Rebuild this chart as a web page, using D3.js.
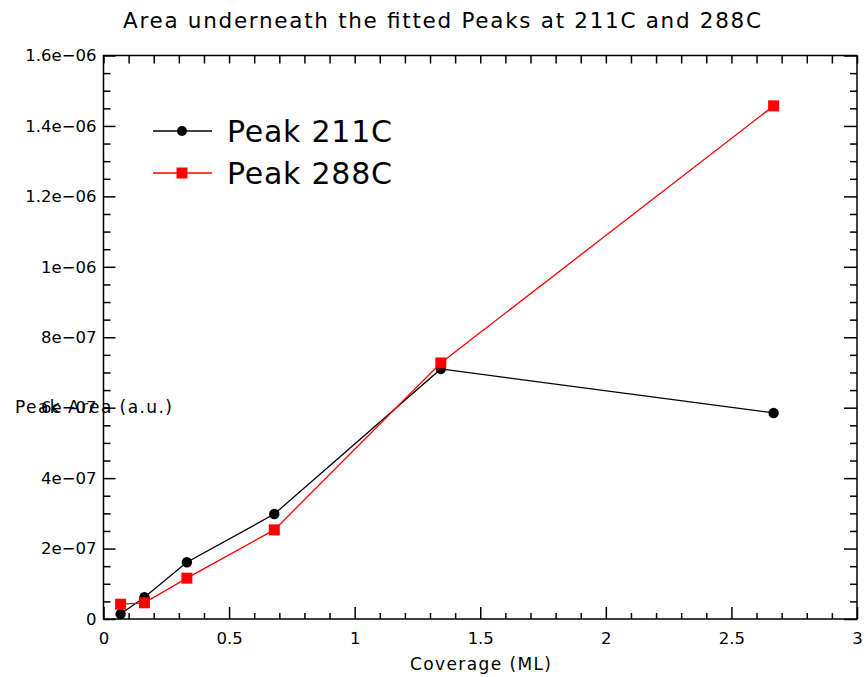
<!DOCTYPE html>
<html><head><meta charset="utf-8">
<script src="https://cdn.jsdelivr.net/npm/d3@7"></script>
<style>
body{margin:0;background:#fff;}
text{font-family:"DejaVu Sans",Verdana,sans-serif;}
</style></head>
<body>
<svg id="chart" width="868" height="677"></svg>
<script>
const coverage = [0.068, 0.163, 0.332, 0.68, 1.343, 2.668];
const peak211 = [1.4e-8, 6.2e-8, 1.61e-7, 2.98e-7, 7.1e-7, 5.85e-7];
const peak288 = [4.2e-8, 4.6e-8, 1.16e-7, 2.53e-7, 7.27e-7, 1.457e-6];
const seriesNames = ["Peak 211C", "Peak 288C"];
const xTicks = [0, 0.5, 1, 1.5, 2, 2.5, 3];
const yTicks = [0, 2e-7, 4e-7, 6e-7, 8e-7, 1e-6, 1.2e-6, 1.4e-6, 1.6e-6];
const yTickLabels = ["0", "2e\u221207", "4e\u221207", "6e\u221207", "8e\u221207", "1e\u221206", "1.2e\u221206", "1.4e\u221206", "1.6e\u221206"];

const svg = d3.select("#chart");
const L = 103.5, R = 857, T = 55.5, B = 619;
const x = d3.scaleLinear().domain([0, 3]).range([L, R]);
const y = d3.scaleLinear().domain([0, 1.6e-6]).range([B, T]);

const xMinor = d3.range(0, 3.0001, 0.1).map(v => +v.toFixed(2)).filter(v => !xTicks.some(t => Math.abs(t - v) < 1e-6));
const yMinor = d3.range(0, 1.6e-6 + 1e-12, 0.5e-7).filter(v => !yTicks.some(t => Math.abs(t - v) < 1e-12));

const g = svg.append("g");
g.append("rect").attr("x", L).attr("y", T).attr("width", R - L).attr("height", B - T)
  .attr("fill", "none").attr("stroke", "#000").attr("stroke-width", 1.5);

// bottom axis
const bottom = d3.axisBottom(x).tickValues(xTicks).tickSize(-12).tickPadding(13).tickFormat(d3.format("~g"));
const gb = g.append("g").attr("transform", `translate(0,${B})`).call(bottom);
gb.select(".domain").remove();
gb.selectAll(".tick line").attr("stroke-width", 1.5);
gb.selectAll(".tick text").attr("font-size", 16.5).attr("fill", "#000");
g.append("g").attr("transform", `translate(0,${B})`).call(d3.axisBottom(x).tickValues(xMinor).tickSize(-6).tickFormat(""))
  .call(s => { s.select(".domain").remove(); s.selectAll("line").attr("stroke-width", 1.5); });

// top axis (ticks only)
g.append("g").attr("transform", `translate(0,${T})`).call(d3.axisTop(x).tickValues(xMinor.concat(xTicks)).tickSize(-8).tickFormat(""))
  .call(s => { s.select(".domain").remove(); s.selectAll("line").attr("stroke-width", 1.5); });

// left axis
const left = d3.axisLeft(y).tickValues(yTicks).tickSize(-12).tickPadding(7).tickFormat((d, i) => yTickLabels[i]);
const gl = g.append("g").attr("transform", `translate(${L},0)`).call(left);
gl.select(".domain").remove();
gl.selectAll(".tick line").attr("stroke-width", 1.5);
gl.selectAll(".tick text").attr("font-size", 16.5).attr("fill", "#000");
g.append("g").attr("transform", `translate(${L},0)`).call(d3.axisLeft(y).tickValues(yMinor).tickSize(-7).tickFormat(""))
  .call(s => { s.select(".domain").remove(); s.selectAll("line").attr("stroke-width", 1.5); });

// right axis
g.append("g").attr("transform", `translate(${R},0)`).call(d3.axisRight(y).tickValues(yTicks).tickSize(-13).tickFormat(""))
  .call(s => { s.select(".domain").remove(); s.selectAll("line").attr("stroke-width", 1.5); });
g.append("g").attr("transform", `translate(${R},0)`).call(d3.axisRight(y).tickValues(yMinor).tickSize(-7).tickFormat(""))
  .call(s => { s.select(".domain").remove(); s.selectAll("line").attr("stroke-width", 1.5); });

// lines
const line = d3.line().x(d => x(d[0])).y(d => y(d[1]));
const d211 = coverage.map((c, i) => [c, peak211[i]]);
const d288 = coverage.map((c, i) => [c, peak288[i]]);
svg.append("path").datum(d211).attr("d", line).attr("fill", "none").attr("stroke", "#000").attr("stroke-width", 1.3);
svg.append("path").datum(d288).attr("d", line).attr("fill", "none").attr("stroke", "#ff0000").attr("stroke-width", 1.3);
svg.selectAll(".c211").data(d211).enter().append("circle")
  .attr("cx", d => x(d[0])).attr("cy", d => y(d[1])).attr("r", 5.2).attr("fill", "#000");
svg.selectAll(".s288").data(d288).enter().append("rect")
  .attr("x", d => x(d[0]) - 5.5).attr("y", d => y(d[1]) - 5.5).attr("width", 11).attr("height", 11).attr("fill", "#ff0000");

// title
svg.append("text").attr("x", 123).attr("y", 28).attr("font-size", 21.5)
  .attr("textLength", 638).attr("lengthAdjust", "spacing").text("Area underneath the fitted Peaks at 211C and 288C");
// x label
svg.append("text").attr("x", 410).attr("y", 670).attr("font-size", 17)
  .attr("textLength", 141).attr("lengthAdjust", "spacing").text("Coverage (ML)");
// y label
svg.append("text").attr("x", 15).attr("y", 413).attr("font-size", 17)
  .attr("textLength", 157).attr("lengthAdjust", "spacing").text("Peak Area (a.u.)");

// legend
const leg = svg.append("g");
const legRows = [{name: seriesNames[0], color: "#000", shape: "circle", y: 131},
                 {name: seriesNames[1], color: "#ff0000", shape: "square", y: 173}];
legRows.forEach(r => {
  leg.append("line").attr("x1", 153).attr("x2", 212).attr("y1", r.y).attr("y2", r.y).attr("stroke", r.color).attr("stroke-width", 1.3);
  if (r.shape === "circle") leg.append("circle").attr("cx", 182).attr("cy", r.y).attr("r", 5).attr("fill", r.color);
  else leg.append("rect").attr("x", 176.5).attr("y", r.y - 5.5).attr("width", 11).attr("height", 11).attr("fill", r.color);
  leg.append("text").attr("x", 227).attr("y", r.y + 11).attr("font-size", 30)
    .attr("textLength", 165).attr("lengthAdjust", "spacing").text(r.name);
});
</script>
</body></html>
